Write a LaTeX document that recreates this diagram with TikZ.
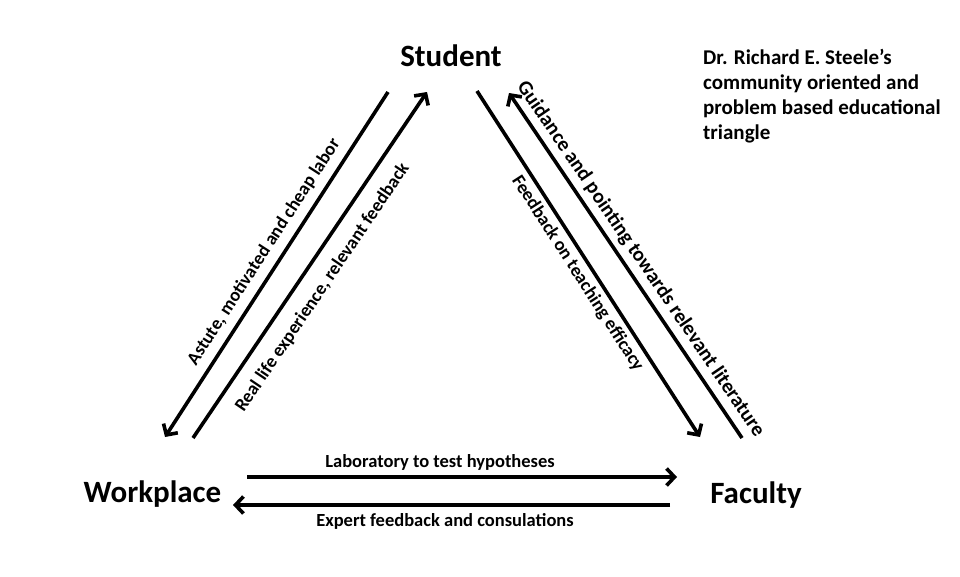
\documentclass[tikz,border=0pt]{standalone}
\usepackage{fontspec}
\setmainfont{Carlito}
\usetikzlibrary{arrows.meta}
\begin{document}
\begin{tikzpicture}[x=1pt,y=-1pt,
  corner/.style={font=\bfseries\fontsize{31}{37}\selectfont, inner sep=0pt},
  lbl/.style={font=\bfseries\fontsize{18.5}{22}\selectfont, inner sep=0pt},
  flow/.style={line width=3.6pt, -{Straight Barb[length=8pt,width=17pt]}}]
\useasboundingbox[fill=white] (0,0) rectangle (960,576);
% corner nodes
\node[corner, anchor=base] (student) at (451,66) {Student};
\node[corner, anchor=base] (workplace) at (152.5,502) {Workplace};
\node[corner, anchor=base] (faculty) at (756,503) {Faculty};
% title
\node[font=\bfseries\fontsize{21}{25}\selectfont, inner sep=0pt, anchor=north west, align=left] (title) at (703,49.5)
  {Dr. Richard E. Steele’s\\community oriented and\\problem based educational\\triangle};
% arrow end points
\coordinate (a1s) at (388,92);  \coordinate (a1e) at (165,437);
\coordinate (a2s) at (193,438); \coordinate (a2e) at (427,92);
\coordinate (a3s) at (477,91);  \coordinate (a3e) at (700,437);
\coordinate (a4s) at (742,438); \coordinate (a4e) at (509,93);
\coordinate (a5s) at (247,477); \coordinate (a5e) at (677,477);
\coordinate (a6s) at (670,505); \coordinate (a6e) at (233,505);
\draw[flow] (a1s) -- (a1e);
\draw[flow] (a2s) -- (a2e);
\draw[flow] (a3s) -- (a3e);
\draw[flow] (a4s) -- (a4e);
\draw[flow] (a5s) -- (a5e);
\draw[flow] (a6s) -- (a6e);
% labels
\node[lbl, rotate=57.1] (l1) at (264,252) {Astute, motivated and cheap labor};
\node[lbl, rotate=55.9] (l2) at (322.5,287.5) {Real life experience, relevant feedback};
\node[lbl, rotate=-57.2] (l3) at (577.5,273.5) {Feedback on teaching efficacy};
\node[lbl, rotate=-55.8, font=\bfseries\fontsize{20.5}{24}\selectfont] (l4) at (640.5,259) {Guidance and pointing towards relevant literature};
\node[lbl, anchor=base] (l5) at (440,467) {Laboratory to test hypotheses};
\node[lbl, anchor=base] (l6) at (445,526) {Expert feedback and consulations};
\end{tikzpicture}
\end{document}
